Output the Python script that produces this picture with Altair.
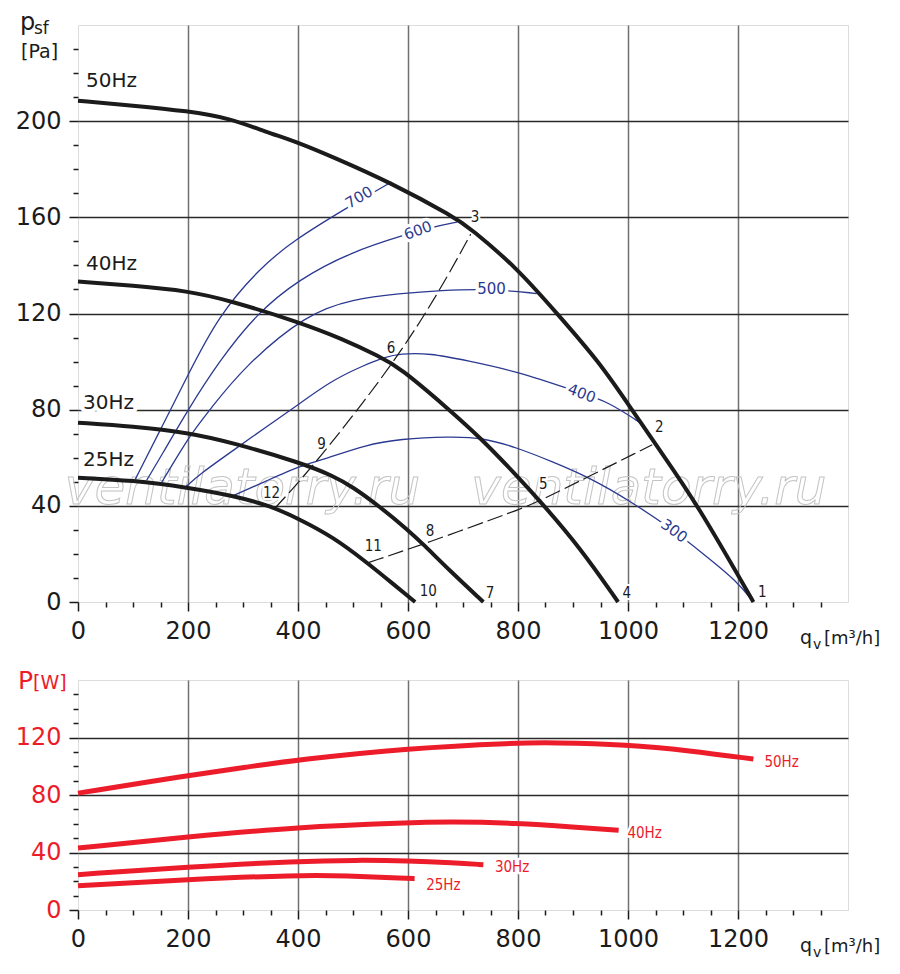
import altair as alt
import pandas as pd

# ---------------- upper panel: static pressure psf [Pa] vs qv [m3/h] ----------------
q_50 = [0, 100, 200, 276, 343, 400, 464, 567, 685, 713, 798, 871, 949, 1004, 1058, 1125, 1228]
p_50 = [208.5, 206.5, 204.2, 201.2, 195.4, 191.2, 185, 174.6, 160, 155.5, 139, 120, 99.5, 81, 63, 41, 0]
q_40 = [0, 100, 200, 276, 400, 480, 549, 585, 670, 731, 798, 840, 913, 982]
p_40 = [133.3, 131.6, 129.4, 125.4, 116.5, 109.5, 102, 97.5, 81, 68.5, 52.5, 42, 22.6, 0]
q_30 = [0, 100, 200, 282, 404, 464, 500, 549, 598, 628, 676, 737]
p_30 = [74.6, 73, 70.5, 66.2, 58, 52.5, 47.8, 39.6, 30.3, 24, 13, 0]
q_25 = [0, 100, 200, 282, 350, 404, 464, 525, 573, 613]
p_25 = [51.7, 50.6, 47.6, 44.2, 40, 34.3, 27, 16.5, 7.5, 0]

# blue iso-lines
q_700 = [104, 152, 199, 255, 331, 392, 489, 570]
p_700 = [51, 72.6, 94, 119, 139, 150.4, 164, 174.7]
q_600 = [125, 152, 199, 256, 325, 400, 495, 598, 646, 689]
p_600 = [50.7, 61, 79.6, 100, 120, 134, 145.5, 153, 156, 158]
q_500 = [152, 205, 240, 300, 416, 500, 585, 658, 752, 834]
p_500 = [49.7, 70, 80, 97.5, 120, 126, 128.3, 129.6, 130.3, 128.3]
q_400 = [194, 222, 282, 340, 400, 460, 520, 558, 585, 640, 707, 798, 916, 962, 1022]
p_400 = [47.5, 53.3, 63, 72.5, 82, 92, 98.5, 101.8, 103.3, 103.5, 100.4, 96, 86.8, 83.5, 74.6]
q_300 = [280, 343, 404, 440, 525, 585, 676, 737, 798, 860, 931, 1004, 1082, 1137, 1198, 1228]
p_300 = [44, 50.4, 56.7, 58.8, 65.5, 67.8, 68.8, 68.3, 64.2, 58.6, 51.7, 42, 30, 20, 8.75, 0]
iso_text = ["700", "600", "500", "400", "300"]
iso_q = [511, 618, 752, 916, 1084]
iso_p = [168.3, 154.6, 130.3, 86.8, 29.6]
iso_angle = [329, 340, 0, 20, 36]

# dashed system lines
q_sysA = [528, 628, 804, 840, 1044]
p_sysA = [16.4, 24, 38.6, 42, 65.4]
q_sysB = [358, 430, 576, 658, 714]
p_sysB = [39, 57, 99.7, 129.6, 153]

# operating point numbers
pt_text = ["1", "2", "3", "4", "5", "6", "7", "8", "9", "10", "11", "12"]
pt_q = [1244, 1057, 722, 998, 846, 569, 749, 640, 443, 637, 537, 352]
pt_p = [4.2, 72.6, 160.1, 3.9, 49, 105.5, 3.9, 29.6, 65.7, 4.6, 23.3, 45.5]

freq_text = ["50Hz", "40Hz", "30Hz", "25Hz"]
freq_q = [14.5, 14.5, 9, 9]
freq_p = [214.3, 137.9, 80.4, 56.7]

wm_q = [299, 1038]
wm_p = [40.8, 40.8]

# ---------------- lower panel: power P [W] vs qv [m3/h] ----------------
qw_50 = [0, 200, 307, 400, 600, 800, 860, 1000, 1110, 1228]
w_50 = [81.3, 93.6, 99.4, 104.5, 112.6, 116.3, 116.5, 115.1, 111, 105]
qw_40 = [0, 200, 400, 600, 672, 800, 902, 983]
w_40 = [43.1, 51, 57.7, 60.7, 61.4, 60.5, 57.7, 55.4]
qw_30 = [0, 200, 400, 506, 600, 683, 737]
w_30 = [24.6, 29.9, 34, 34.7, 34.3, 32.9, 31.5]
qw_25 = [0, 200, 400, 485, 600, 612]
w_25 = [16.9, 21.3, 24.3, 23.9, 22, 21.8]
wlab_q = [1248, 999, 758, 633]
wlab_w = [102.8, 53.4, 29.6, 17.5]

# ---------------- styling ----------------
FONT = "DejaVu Sans"
COND = "DejaVu Sans Condensed"
INK = "#1b1b1b"
BLUE = "#2b3990"
RED = "#ec1c2a"
VGRID = "#707070"
HGRID = "#2a2a2a"


def series(qs, vs, names, vname):
    rows = []
    for q, v, n in zip(qs, vs, names):
        for a, b in zip(q, v):
            rows.append({"q": a, vname: b, "s": n})
    return pd.DataFrame(rows)


def x_axis():
    return alt.Axis(
        values=list(range(0, 1351, 50)), format="d",
        labelExpr="datum.value % 200 == 0 ? datum.label : ''",
        labelFont=FONT, labelFontSize=24, labelColor=INK, labelPadding=8,
        labelFlush=False, labelOverlap=False,
        tickColor=INK, tickWidth=1.5,
        tickSize={"condition": {"test": "datum.value % 200 == 0", "value": 9}, "value": 5},
        grid=True, gridColor=VGRID, gridWidth=1.5,
        gridOpacity={"condition": {"test": "datum.value % 200 == 0 && datum.value > 0", "value": 1}, "value": 0},
        domain=False, title=None)


def y_axis(top, step, color):
    return alt.Axis(
        values=list(range(0, top, 10)), format="d",
        labelExpr="datum.value %% %d == 0 ? datum.label : ''" % step,
        labelFont=FONT, labelFontSize=24, labelColor=color, labelPadding=8,
        labelOverlap=False, labelFlush=False,
        tickColor=INK, tickWidth=1.5,
        tickSize={"condition": {"test": "datum.value %% %d == 0" % step, "value": 9}, "value": 5},
        grid=True, gridColor=HGRID, gridWidth=1.3,
        gridOpacity={"condition": {"test": "datum.value %% %d == 0 && datum.value > 0" % step, "value": 1}, "value": 0},
        domain=False, title=None)


XT = alt.X("q:Q", scale=alt.Scale(domain=[0, 1400], nice=False, zero=False), axis=x_axis())
YT = alt.Y("p:Q", scale=alt.Scale(domain=[0, 240], nice=False, zero=False), axis=y_axis(231, 40, INK))
XB = alt.X("q:Q", scale=alt.Scale(domain=[0, 1400], nice=False, zero=False), axis=x_axis())
YB = alt.Y("w:Q", scale=alt.Scale(domain=[0, 160], nice=False, zero=False), axis=y_axis(151, 40, RED))


def labels(df, X, Y, color, size, font=FONT, align="center", baseline="middle",
           angle=0, halo=0):
    out = []
    kw = dict(align=align, baseline=baseline, fontSize=size, font=font)
    if angle:
        kw["angle"] = angle
    if halo:
        out.append(alt.Chart(df).mark_text(color="white", stroke="white", strokeWidth=halo,
                                           strokeJoin="round", **kw)
                   .encode(x=X, y=Y, text="t:N"))
    out.append(alt.Chart(df).mark_text(color=color, **kw).encode(x=X, y=Y, text="t:N"))
    return out


def fixed_text(s, px, py, size, color, font=FONT):
    return (alt.Chart(pd.DataFrame({"t": [s]}))
            .mark_text(text=s, align="left", baseline="alphabetic", fontSize=size,
                       font=font, color=color)
            .encode(x=alt.value(px), y=alt.value(py)))


# ---------------- upper panel layers ----------------
fan = series([q_50, q_40, q_30, q_25], [p_50, p_40, p_30, p_25], freq_text, "p")
iso = series([q_700, q_600, q_500, q_400, q_300], [p_700, p_600, p_500, p_400, p_300], iso_text, "p")
sysl = series([q_sysA, q_sysB], [p_sysA, p_sysB], ["A", "B"], "p")

wm = (alt.Chart(pd.DataFrame({"q": wm_q, "p": wm_p}))
      .mark_text(text="ventilatorry.ru", font=FONT, fontSize=50, fontStyle="italic",
                 align="center", baseline="alphabetic", fillOpacity=0,
                 stroke="#c4c4c4", strokeWidth=1)
      .encode(x=XT, y=YT))

iso_lines = (alt.Chart(iso).mark_line(color=BLUE, strokeWidth=1.3, interpolate="basis")
             .encode(x=XT, y=YT, detail="s:N"))
sys_lines = (alt.Chart(sysl).mark_line(color=INK, strokeWidth=1.2, strokeDash=[16, 5],
                                      interpolate="basis")
             .encode(x=XT, y=YT, detail="s:N"))
fan_lines = (alt.Chart(fan).mark_line(color=INK, strokeWidth=4, interpolate="basis")
             .encode(x=XT, y=YT, detail="s:N"))

top_layers = [wm, iso_lines, sys_lines, fan_lines]
for t, q, p, a in zip(iso_text, iso_q, iso_p, iso_angle):
    top_layers += labels(pd.DataFrame({"t": [t], "q": [q], "p": [p]}), XT, YT, BLUE, 15,
                         angle=a, halo=7)
top_layers += labels(pd.DataFrame({"t": pt_text, "q": pt_q, "p": pt_p}), XT, YT, INK, 15,
                     font=COND, halo=4)
top_layers += labels(pd.DataFrame({"t": freq_text, "q": freq_q, "p": freq_p}), XT, YT, INK, 20,
                     align="left", baseline="alphabetic", halo=8)
top_layers += [
    fixed_text("p", -58, 5, 24, INK),
    fixed_text("sf", -44, 9, 17, INK),
    fixed_text("[Pa]", -57, 33, 19, INK),
    fixed_text("q", 722, 619, 19, INK),
    fixed_text("v", 735, 624, 14, INK),
    fixed_text("[m³/h]", 746, 619, 18, INK),
]
top = alt.layer(*top_layers).properties(width=770, height=577)

# ---------------- lower panel layers ----------------
pw = series([qw_50, qw_40, qw_30, qw_25], [w_50, w_40, w_30, w_25], freq_text, "w")
pw_lines = (alt.Chart(pw).mark_line(color=RED, strokeWidth=5, interpolate="basis")
            .encode(x=XB, y=YB, detail="s:N"))
bot_layers = [pw_lines]
bot_layers += labels(pd.DataFrame({"t": freq_text, "q": wlab_q, "w": wlab_w}), XB, YB, RED, 15,
                     font=COND, align="left", halo=5)
bot_layers += [
    fixed_text("P", -60, 9, 25, RED),
    fixed_text("[W]", -45, 9, 19, RED),
    fixed_text("q", 722, 272, 19, INK),
    fixed_text("v", 735, 277, 14, INK),
    fixed_text("[m³/h]", 746, 272, 18, INK),
]
bottom = alt.layer(*bot_layers).properties(width=770, height=230)

chart = (alt.vconcat(top, bottom, spacing=78, bounds="flush")
         .properties(padding={"left": 6, "top": 2, "right": 5, "bottom": 5})
         .configure_view(stroke="#111111", strokeWidth=2)
         .configure(background="white"))

chart.save("out.html", embed_options={"renderer": "svg", "actions": False})
